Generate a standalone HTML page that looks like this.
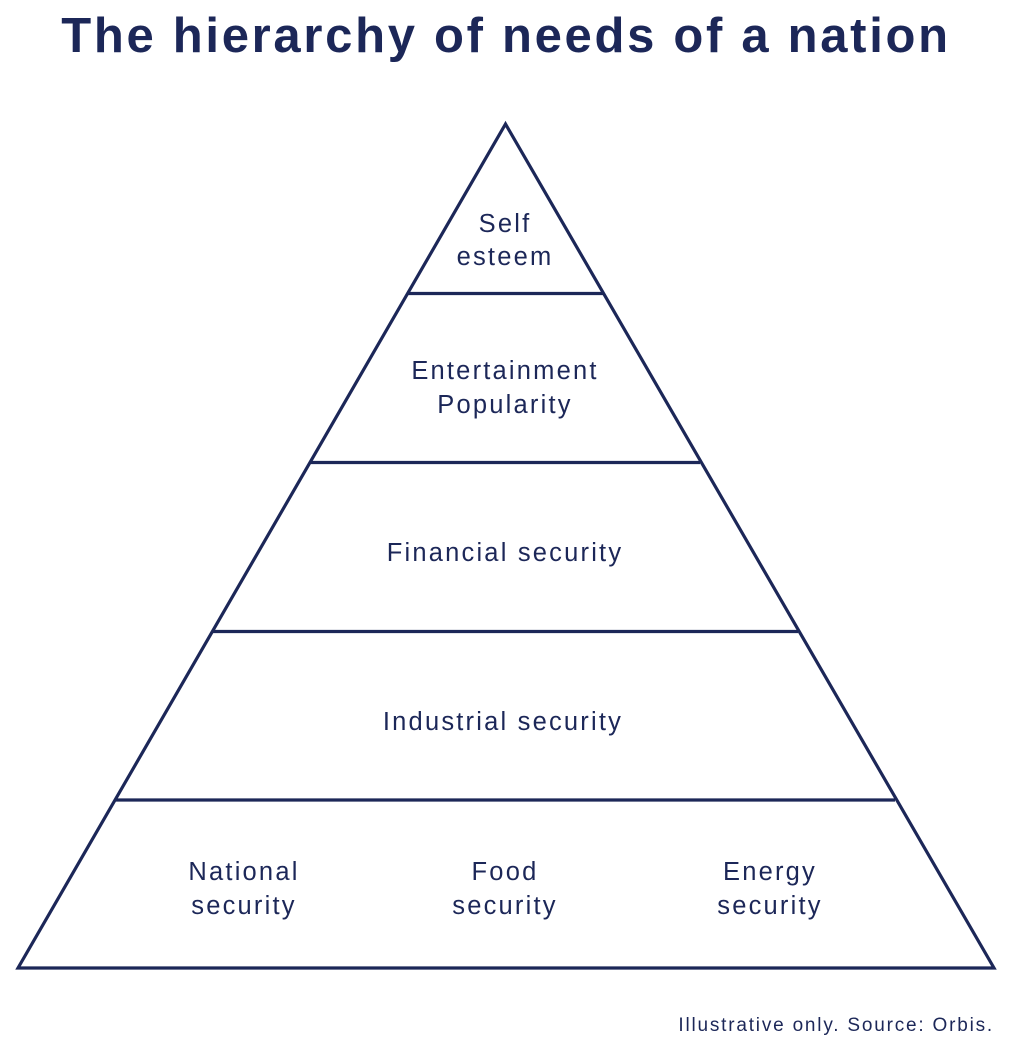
<!DOCTYPE html>
<html><head><style>
body{margin:0;background:#fff;}
</style></head><body>
<svg width="1013" height="1044" viewBox="0 0 1013 1044" xmlns="http://www.w3.org/2000/svg" style="display:block">
<g font-family="Liberation Sans, sans-serif" fill="#1c2758">
<text x="506" y="52" text-anchor="middle" font-size="49" font-weight="bold" letter-spacing="2.7">The hierarchy of needs of a nation</text>
</g>
<g stroke="#1c2758" stroke-width="3.2" fill="none">
<polygon points="505.5,124 18,968 994,968" stroke-linejoin="miter"/>
<line x1="408" y1="293.5" x2="603" y2="293.5"/>
<line x1="311" y1="462.5" x2="700" y2="462.5"/>
<line x1="213" y1="631.5" x2="798" y2="631.5"/>
<line x1="116" y1="800" x2="895" y2="800"/>
</g>
<g font-family="Liberation Sans, sans-serif" fill="#1c2758" font-size="25.5" text-anchor="middle" letter-spacing="2.2">
<text x="505" y="232">Self</text>
<text x="505" y="265">esteem</text>
<text x="505" y="379">Entertainment</text>
<text x="505" y="413">Popularity</text>
<text x="505" y="561">Financial security</text>
<text x="503" y="730">Industrial security</text>
<text x="244" y="880">National</text>
<text x="244" y="914">security</text>
<text x="505" y="880">Food</text>
<text x="505" y="914">security</text>
<text x="770" y="880">Energy</text>
<text x="770" y="914">security</text>
<text x="994" y="1031" text-anchor="end" font-size="19" letter-spacing="1.8">Illustrative only. Source: Orbis.</text>
</g>
</svg>
</body></html>
